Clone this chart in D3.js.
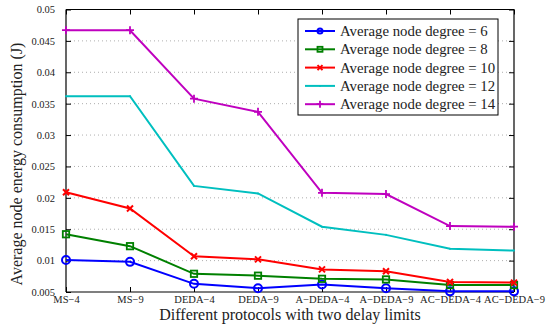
<!DOCTYPE html>
<html>
<head>
<meta charset="utf-8">
<script src="https://cdn.jsdelivr.net/npm/d3@7"></script>
<style>
  body { margin: 0; background: #fff; }
  svg text { font-family: "Liberation Serif", "DejaVu Serif", serif; fill: #222; }
</style>
</head>
<body>
<svg id="chart"></svg>
<script>
// protocolos en el eje x
const protocols = ["MS\u22124", "MS\u22129", "DEDA\u22124", "DEDA\u22129", "A\u2212DEDA\u22124", "A\u2212DEDA\u22129", "AC\u2212DEDA\u22124", "AC\u2212DEDA\u22129"];
const yTicks = [0.005, 0.01, 0.015, 0.02, 0.025, 0.03, 0.035, 0.04, 0.045, 0.05];

const degree6  = [0.0101, 0.0098, 0.0063, 0.0056, 0.0062, 0.0056, 0.0051, 0.0051];
const degree8  = [0.0142, 0.0123, 0.0079, 0.0076, 0.0071, 0.0070, 0.0061, 0.0061];
const degree10 = [0.0209, 0.0183, 0.0107, 0.0102, 0.0086, 0.0083, 0.0066, 0.0065];
const degree12 = [0.0362, 0.0362, 0.0219, 0.0207, 0.0154, 0.0141, 0.0119, 0.0116];
const degree14 = [0.0467, 0.0467, 0.0358, 0.0337, 0.0208, 0.0206, 0.0155, 0.0154];

const seriesNames = ["Average node degree = 6", "Average node degree = 8", "Average node degree = 10", "Average node degree = 12", "Average node degree = 14"];

const series = [
  { name: seriesNames[0], values: degree6,  color: "#0000ff", marker: "circle" },
  { name: seriesNames[1], values: degree8,  color: "#008000", marker: "square" },
  { name: seriesNames[2], values: degree10, color: "#ff0000", marker: "x" },
  { name: seriesNames[3], values: degree12, color: "#00bfbf", marker: "dot" },
  { name: seriesNames[4], values: degree14, color: "#bf00bf", marker: "plus" }
];

const width = 546, height = 325;
const margin = { left: 66, right: 32, top: 9.5, bottom: 33 };

const svg = d3.select("#chart")
  .attr("width", width)
  .attr("height", height);

const x = d3.scalePoint()
  .domain(protocols)
  .range([margin.left, width - margin.right]);

const y = d3.scaleLinear()
  .domain([0.005, 0.05])
  .range([height - margin.bottom, margin.top]);

// lineas de la cuadricula (punteadas)
svg.append("g")
  .selectAll("line")
  .data(yTicks.slice(1, -1))
  .enter()
  .append("line")
  .attr("x1", margin.left)
  .attr("x2", width - margin.right)
  .attr("y1", d => y(d))
  .attr("y2", d => y(d))
  .style("stroke", "#999")
  .style("stroke-width", 0.8)
  .style("stroke-dasharray", "1,3");

// ejes
const fmt = d => d3.format("")(+d.toFixed(3));

const yAxis = svg.append("g")
  .attr("transform", `translate(${margin.left},0)`)
  .call(d3.axisLeft(y).tickValues(yTicks).tickSize(-5).tickPadding(11).tickFormat(fmt));

const yAxisRight = svg.append("g")
  .attr("transform", `translate(${width - margin.right},0)`)
  .call(d3.axisRight(y).tickValues(yTicks).tickSize(-5).tickFormat(""));

const xAxis = svg.append("g")
  .attr("transform", `translate(0,${height - margin.bottom})`)
  .call(d3.axisBottom(x).tickSize(-5).tickPadding(4));

const xAxisTop = svg.append("g")
  .attr("transform", `translate(0,${margin.top})`)
  .call(d3.axisTop(x).tickSize(-5).tickFormat(""));

[yAxis, yAxisRight, xAxis, xAxisTop].forEach(g => {
  g.select(".domain").style("stroke", "#000").style("stroke-width", 1.2);
  g.selectAll(".tick line").style("stroke", "#000");
  g.selectAll("text").style("font-size", "10.5px").style("font-family", "'Liberation Serif', serif").style("fill", "#222");
});
xAxis.selectAll(".domain").attr("d", `M${margin.left},0H${width - margin.right}`);
xAxisTop.selectAll(".domain").attr("d", `M${margin.left},0H${width - margin.right}`);
yAxis.selectAll(".domain").attr("d", `M0,${y(0.005)}V${y(0.05)}`);
yAxisRight.selectAll(".domain").attr("d", `M0,${y(0.005)}V${y(0.05)}`);

// etiquetas de los ejes
svg.append("text")
  .attr("x", (margin.left + width - margin.right) / 2)
  .attr("y", 320)
  .attr("text-anchor", "middle")
  .style("font-size", "16px")
  .text("Different protocols with two delay limits");

svg.append("text")
  .attr("transform", "translate(22,164) rotate(-90)")
  .attr("text-anchor", "middle")
  .style("font-size", "16px")
  .text("Average node energy consumption (J)");

// marcadores
function drawMarker(g, type, color, size) {
  const s = size;
  if (type === "circle") {
    g.append("circle").attr("r", s).style("fill", "none").style("stroke", color).style("stroke-width", 2);
  } else if (type === "square") {
    g.append("rect").attr("x", -s).attr("y", -s).attr("width", 2 * s).attr("height", 2 * s)
      .style("fill", "none").style("stroke", color).style("stroke-width", 1.8);
  } else if (type === "x") {
    g.append("path").attr("d", `M${-s},${-s}L${s},${s}M${-s},${s}L${s},${-s}`)
      .style("stroke", color).style("stroke-width", 2);
  } else if (type === "plus") {
    g.append("path").attr("d", `M${-s - 1},0H${s + 1}M0,${-s - 1}V${s + 1}`)
      .style("stroke", color).style("stroke-width", 1.8);
  } else if (type === "dot") {
    g.append("circle").attr("r", 1).style("fill", color);
  }
}

const line = d3.line()
  .x((d, i) => x(protocols[i]))
  .y(d => y(d));

series.forEach(s => {
  svg.append("path")
    .datum(s.values)
    .attr("d", line)
    .style("fill", "none")
    .style("stroke", s.color)
    .style("stroke-width", 2);

  s.values.forEach((v, i) => {
    const g = svg.append("g").attr("transform", `translate(${x(protocols[i])},${y(v)})`);
    const size = { circle: 4, square: 3.2, x: 3, plus: 3, dot: 1 }[s.marker];
    drawMarker(g, s.marker, s.color, size);
  });
});

// leyenda
const legend = svg.append("g").attr("transform", "translate(298,19)");
legend.append("rect")
  .attr("width", 200)
  .attr("height", 96)
  .style("fill", "#fff")
  .style("stroke", "#000")
  .style("stroke-width", 1);

series.forEach((s, i) => {
  const row = legend.append("g").attr("transform", `translate(0,${12 + i * 18.3})`);
  row.append("line")
    .attr("x1", 7).attr("x2", 37)
    .style("stroke", s.color)
    .style("stroke-width", 2);
  const m = row.append("g").attr("transform", "translate(22,0)");
  drawMarker(m, s.marker, s.color, 2.5);
  row.append("text")
    .attr("x", 42)
    .attr("y", 5)
    .style("font-size", "14.8px")
    .text(s.name);
});
</script>
</body>
</html>
